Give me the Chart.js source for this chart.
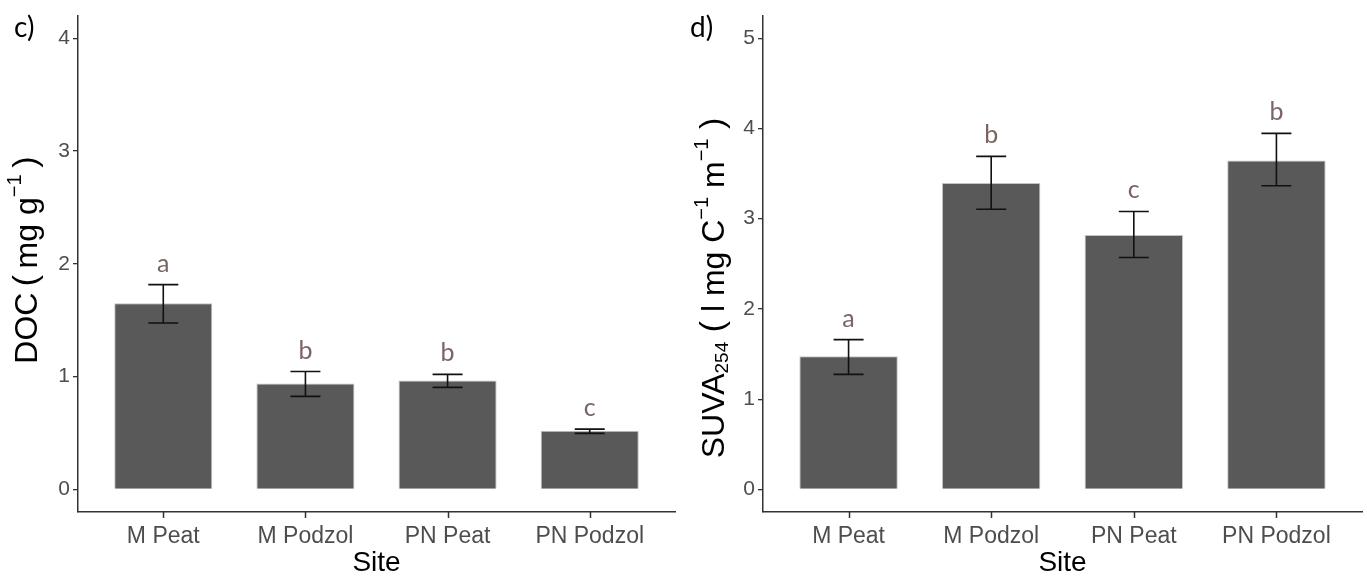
<!DOCTYPE html>
<html>
<head>
<meta charset="utf-8">
<script src="https://cdn.jsdelivr.net/npm/chart.js@4/dist/chart.umd.min.js"></script>
<style>
  body { margin: 0; background: #fff; }
  .wrap { position: absolute; top: 0; height: 580px; }
</style>
</head>
<body>
<div class="wrap" style="left:0;width:683px"><canvas id="docChart"></canvas></div>
<div class="wrap" style="left:683px;width:684px"><canvas id="suvaChart"></canvas></div>
<script>
// sites on the x axis (same for both panels)
var sites = ['M Peat', 'M Podzol', 'PN Peat', 'PN Podzol'];

// panel c) DOC (mg g-1)
var docMean = [1.65, 0.94, 0.965, 0.52];
var docHigh = [1.815, 1.045, 1.02, 0.535];
var docLow  = [1.475, 0.825, 0.905, 0.497];
var docLetters = ['a', 'b', 'b', 'c'];
var docTicks = [0, 1, 2, 3, 4];

// panel d) SUVA254 (l mg C-1 m-1)
var suvaMean = [1.475, 3.395, 2.82, 3.645];
var suvaHigh = [1.66, 3.69, 3.08, 3.945];
var suvaLow  = [1.275, 3.105, 2.57, 3.365];
var suvaLetters = ['a', 'b', 'c', 'b'];
var suvaTicks = [0, 1, 2, 3, 4, 5];

var axisCol = '#333333';
var tickCol = '#4d4d4d';
var arial = '"Liberation Sans", Arial';

// error bars and significance letters
var errPlugin = {
  id: 'errbars',
  afterDatasetsDraw: function(chart, args, opts) {
    var ctx = chart.ctx, xs = chart.scales.x, ys = chart.scales.y;
    ctx.save();
    for (var i = 0; i < opts.hi.length; i++) {
      var x = xs.getPixelForValue(i + 1);
      var yh = ys.getPixelForValue(opts.hi[i]);
      var yl = ys.getPixelForValue(opts.lo[i]);
      ctx.strokeStyle = '#111';
      ctx.lineWidth = 1.6;
      ctx.beginPath();
      ctx.moveTo(x, yh); ctx.lineTo(x, yl);
      ctx.moveTo(x - 15, yh); ctx.lineTo(x + 15, yh);
      ctx.moveTo(x - 15, yl); ctx.lineTo(x + 15, yl);
      ctx.stroke();
      ctx.fillStyle = '#7b6464';
      ctx.font = '25px Lato';
      ctx.textAlign = 'center';
      ctx.textBaseline = 'alphabetic';
      ctx.fillText(opts.letters[i], x, yh - 13);
    }
    ctx.restore();
  }
};

// x tick marks, rotated y title with sub/superscripts, panel letter
var titlePlugin = {
  id: 'richtitle',
  afterDraw: function(chart, args, opts) {
    var ctx = chart.ctx, xs = chart.scales.x;
    ctx.save();
    ctx.strokeStyle = axisCol;
    ctx.lineWidth = 1.5;
    ctx.beginPath();
    xs.ticks.forEach(function(t) {
      var tx = Math.round(xs.getPixelForValue(t.value)) + 0.5;
      ctx.moveTo(tx, chart.chartArea.bottom);
      ctx.lineTo(tx, chart.chartArea.bottom + 6);
    });
    ctx.stroke();

    ctx.fillStyle = '#000';
    ctx.font = '28px Lato';
    ctx.textAlign = 'left';
    ctx.textBaseline = 'alphabetic';
    ctx.fillText(opts.panel, opts.panelX, 37);

    var segs = opts.segs;
    var total = 0;
    segs.forEach(function(s) {
      ctx.font = s.size + 'px ' + arial;
      s.w = ctx.measureText(s.t).width;
      total += s.w;
    });
    ctx.translate(opts.cx, opts.cy);
    ctx.rotate(-Math.PI / 2);
    ctx.textBaseline = 'middle';
    var pos = -total / 2;
    segs.forEach(function(s) {
      ctx.font = s.size + 'px ' + arial;
      ctx.fillText(s.t, pos, s.dy || 0);
      pos += s.w;
    });
    ctx.restore();
  }
};

function makeChart(id, mean, hi, lo, letters, ticks, yMin, yMax, yWidth, padRight, titleOpts) {
  var points = mean.map(function(v, i) { return { x: i + 1, y: v }; });
  return new Chart(document.getElementById(id), {
    type: 'bar',
    data: {
      datasets: [{
        data: points,
        backgroundColor: '#595959',
        borderColor: '#c4c4c4',
        borderWidth: 1,
        barPercentage: 0.69,
        categoryPercentage: 1
      }]
    },
    options: {
      responsive: true,
      maintainAspectRatio: false,
      animation: false,
      layout: { padding: { top: 7, right: padRight, left: 0, bottom: 0 } },
      plugins: {
        legend: { display: false },
        tooltip: { enabled: false },
        errbars: { hi: hi, lo: lo, letters: letters },
        richtitle: titleOpts
      },
      scales: {
        x: {
          type: 'linear',
          min: 0.4,
          max: 4.6,
          offset: false,
          afterBuildTicks: function(scale) {
            scale.ticks = sites.map(function(s, i) { return { value: i + 1 }; });
          },
          afterFit: function(scale) { scale.height = 68; },
          ticks: {
            color: tickCol,
            font: { size: 23, family: arial },
            padding: 3,
            maxRotation: 0,
            autoSkip: false,
            callback: function(v) { return sites[v - 1]; }
          },
          grid: { display: false },
          border: { display: true, color: axisCol, width: 1.5 },
          title: {
            display: true,
            text: 'Site',
            color: '#000',
            font: { size: 28, family: arial },
            padding: 0
          }
        },
        y: {
          min: yMin,
          max: yMax,
          afterBuildTicks: function(scale) {
            scale.ticks = ticks.map(function(v) { return { value: v }; });
          },
          afterFit: function(scale) { scale.width = yWidth; },
          ticks: {
            color: tickCol,
            font: { size: 21, family: arial },
            padding: 3
          },
          grid: { display: true, drawOnChartArea: false, drawTicks: true, tickLength: 5, color: axisCol, lineWidth: 1.3 },
          border: { display: true, color: axisCol, width: 1.5 }
        }
      }
    },
    plugins: [errPlugin, titlePlugin]
  });
}

makeChart('docChart', docMean, docHigh, docLow, docLetters, docTicks, -0.2, 4.2, 78, 8, {
  panel: 'c)', panelX: 14, cx: 28, cy: 260,
  segs: [
    { t: 'DOC\u2009', size: 32 },
    { t: '(', size: 34, dy: -1 },
    { t: '\u2009mg g', size: 32 },
    { t: '\u22121', size: 20, dy: -13 },
    { t: '\u2009)', size: 34, dy: -1 }
  ]
});

makeChart('suvaChart', suvaMean, suvaHigh, suvaLow, suvaLetters, suvaTicks, -0.25, 5.25, 80, 5, {
  panel: 'd)', panelX: 7, cx: 32, cy: 288,
  segs: [
    { t: 'SUVA', size: 32 },
    { t: '254', size: 19, dy: 8 },
    { t: ' (', size: 34, dy: -1 },
    { t: ' l mg C', size: 32 },
    { t: '\u22121', size: 20, dy: -13 },
    { t: ' m', size: 32 },
    { t: '\u22121', size: 20, dy: -13 },
    { t: ' )', size: 34, dy: -1 }
  ]
});
</script>
</body>
</html>
